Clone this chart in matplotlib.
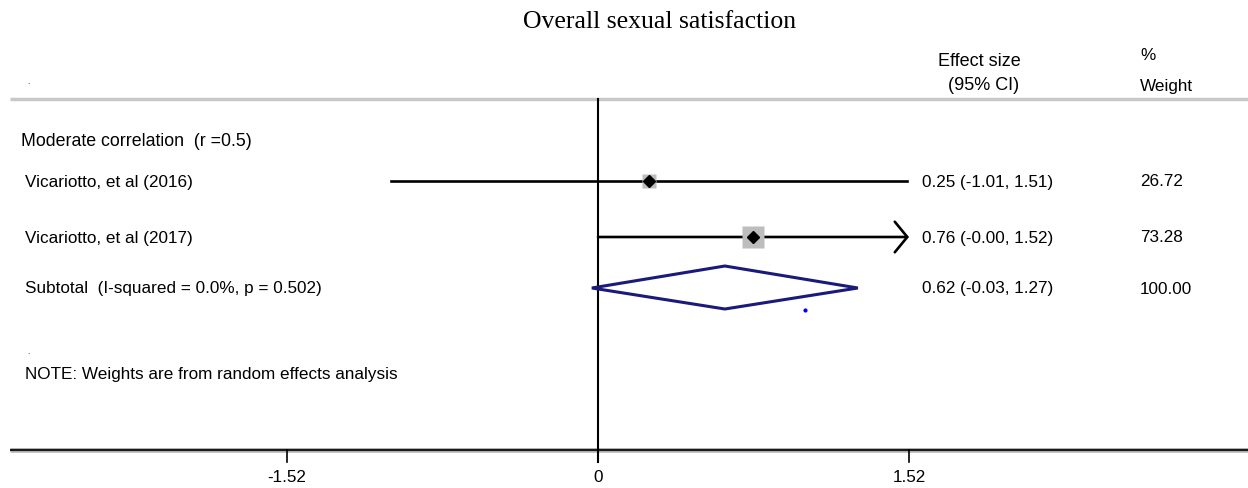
import matplotlib.pyplot as plt

plt.rcParams['font.family'] = ['Liberation Sans', 'DejaVu Sans']

title = "Overall sexual satisfaction"
group_label = "Moderate correlation  (r =0.5)"
studies = ["Vicariotto, et al (2016)", "Vicariotto, et al (2017)"]
effects = [0.25, 0.76]
lower = [-1.01, -0.00]
upper = [1.51, 1.52]
weights = [26.72, 73.28]
ci_text = ["0.25 (-1.01, 1.51)", "0.76 (-0.00, 1.52)"]

subtotal_label = "Subtotal  (I-squared = 0.0%, p = 0.502)"
sub_es, sub_lo, sub_hi = 0.62, -0.03, 1.27
sub_text = "0.62 (-0.03, 1.27)"
sub_weight = "100.00"
note = "NOTE: Weights are from random effects analysis"

ticks = [-1.52, 0, 1.52]
tick_labels = ["-1.52", "0", "1.52"]
axis_max = 1.52

# pixel scale: 0 at x=598, 204.6 px per unit
W, H = 1248, 489
px_per_unit = 204.6
x0 = 598
def px(v):
    return (v - x0) / px_per_unit

fs = 12.3

fig = plt.figure(figsize=(W / 100, H / 100), dpi=100)
ax = fig.add_axes([0, 0, 1, 1])
ax.set_xlim(px(0), px(W))
ax.set_ylim(H, 0)
ax.axis('off')

row_y = [182, 238]
sub_y = 289

# title and header
ax.text(px(660), 22, title, family='Liberation Serif', fontsize=18.5, ha='center', va='center')
ax.text(px(28), 83, '.', fontsize=6, ha='center', va='center')
ax.text(px(979), 62, "Effect size", fontsize=13, ha='center', va='center')
ax.text(px(984), 85, "(95% CI)", fontsize=13, ha='center', va='center')
ax.text(px(1148), 55, "%", fontsize=fs, ha='center', va='center')
ax.text(px(1140), 86, "Weight", fontsize=fs, ha='left', va='center')

# top rule and bottom axis
ax.plot([px(10), px(W)], [100, 100], color='#c8c8c8', lw=2.5, solid_capstyle='butt')
ax.plot([px(10), px(W)], [451, 451], color='#c0c0c0', lw=3.5, solid_capstyle='butt')
ax.plot([px(10), px(W)], [451, 451], color='#1a1a1a', lw=1.6, solid_capstyle='butt')
ax.plot([0, 0], [100, 463], color='black', lw=1.5)
for t, lab in zip(ticks, tick_labels):
    ax.plot([t, t], [451, 463], color='black', lw=1.2)
    ax.text(t, 478, lab, fontsize=fs, ha='center', va='center')

# group / study labels
ax.text(px(21), 142, group_label, fontsize=fs + 0.5, ha='left', va='center')
for y, name, es, lo, hi, w, ct in zip(row_y, studies, effects, lower, upper, weights, ci_text):
    ax.text(px(25), y, name, fontsize=fs, ha='left', va='center')
    if hi >= axis_max:
        ax.annotate('', xy=(axis_max, y), xytext=(lo, y),
                    arrowprops=dict(arrowstyle='->, head_length=0.45, head_width=0.55',
                                    lw=1.9, color='black', mutation_scale=20,
                                    shrinkA=0, shrinkB=0))
    else:
        ax.plot([lo, hi], [y, y], color='black', lw=1.9)
    size = 1.9 * (w ** 0.5)
    ax.plot(es, y, marker='s', ms=size, color='#bdbdbd', mec='none', zorder=3)
    ax.plot(es, y, marker='D', ms=6.3, color='black', zorder=4)
    ax.text(px(922), y, ct, fontsize=fs, ha='left', va='center')
    ax.text(px(1140), y, f"{w:.2f}", fontsize=fs, ha='left', va='center')

# subtotal diamond
ax.text(px(25), sub_y, subtotal_label, fontsize=fs, ha='left', va='center')
ax.fill([sub_lo, sub_es, sub_hi, sub_es, sub_lo],
        [sub_y, sub_y - 22, sub_y, sub_y + 21, sub_y],
        facecolor='white', edgecolor='#1a1a7a', lw=2.2, zorder=3)
ax.plot(px(805), 311, marker='o', ms=3, color='blue', mec='none')
ax.text(px(922), sub_y, sub_text, fontsize=fs, ha='left', va='center')
ax.text(px(1140), sub_y, sub_weight, fontsize=fs, ha='left', va='center')

ax.text(px(28), 352, '.', fontsize=6, ha='center', va='center')
ax.text(px(25), 374, note, fontsize=fs, ha='left', va='center')

fig.savefig('out.png', dpi=100)
